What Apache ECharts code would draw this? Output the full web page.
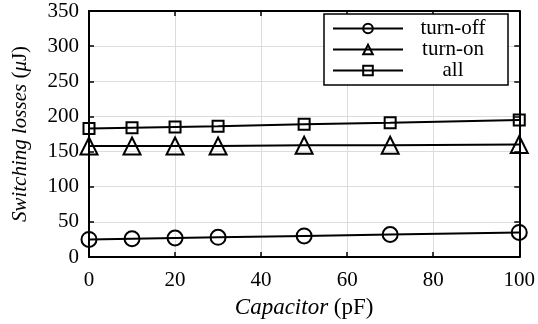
<!DOCTYPE html>
<html>
<head>
<meta charset="utf-8">
<script src="https://cdn.jsdelivr.net/npm/echarts@6/dist/echarts.min.js"></script>
<style>
  html, body { margin: 0; padding: 0; background: #fff; }
  #chart { width: 538px; height: 324px; }
</style>
</head>
<body>
<div id="chart"></div>
<script>
// Capacitance sweep (pF) and measured switching losses (µJ)
const capacitance = [0, 10, 20, 30, 50, 70, 100];
const turnOff = [25, 26, 27, 28, 30, 32, 35];
const turnOn = [158, 158, 158, 158, 159, 159, 160];
const allLosses = [183, 184, 185, 186, 189, 191, 195];

const xTicks = [0, 20, 40, 60, 80, 100];
const yTicks = [0, 50, 100, 150, 200, 250, 300, 350];

const FONT = '"Liberation Serif", "DejaVu Serif", serif';

function pairs(ys) {
  return capacitance.map((x, i) => [x, ys[i]]);
}

function lineSeries(name, symbol, size, ys) {
  return {
    name: name,
    type: 'line',
    data: pairs(ys),
    symbol: symbol,
    symbolSize: size,
    showAllSymbol: true,
    lineStyle: { color: '#000', width: 2 },
    itemStyle: { color: 'rgba(255,255,255,0)', borderColor: '#000', borderWidth: 2 },
    emphasis: { disabled: true },
    z: 3
  };
}

const chart = echarts.init(document.getElementById('chart'), null, { renderer: 'canvas' });

const baseX = { type: 'value', min: 0, max: 100, interval: 20 };
const baseY = { type: 'value', min: 0, max: 350, interval: 50 };

const boxLine = { show: true, onZero: false, lineStyle: { color: '#000', width: 2 } };
const boxTick = { show: true, inside: true, length: 5, lineStyle: { color: '#000', width: 1.5 } };

chart.setOption({
  animation: false,
  backgroundColor: '#fff',
  grid: { left: 89, right: 18, top: 11, bottom: 67, containLabel: false },
  legend: {
    data: ['turn-off', 'turn-on', 'all'],
    orient: 'vertical',
    left: 324,
    top: 14,
    padding: [4, 10, 4, 8],
    itemWidth: 70,
    itemHeight: 12,
    itemGap: 0,
    borderColor: '#000',
    borderWidth: 1.5,
    backgroundColor: '#fff',
    borderRadius: 0,
    formatter: '{t|{name}}',
    textStyle: {
      fontFamily: FONT,
      fontSize: 21,
      color: '#000',
      rich: { t: { width: 90, align: 'center', fontFamily: FONT, fontSize: 21, lineHeight: 22 } }
    }
  },
  xAxis: [
    Object.assign({}, baseX, {
      position: 'bottom',
      name: '{i|Capacitor} (pF)',
      nameLocation: 'middle',
      nameGap: 39,
      nameTextStyle: {
        fontFamily: FONT, fontSize: 23, color: '#000',
        rich: { i: { fontFamily: FONT, fontSize: 23, fontStyle: 'italic', color: '#000' } }
      },
      axisLine: boxLine,
      axisTick: boxTick,
      axisLabel: {
        fontFamily: FONT, fontSize: 21, color: '#000', margin: 13,
        formatter: v => (xTicks.indexOf(v) >= 0 ? String(v) : '')
      },
      splitLine: { show: true, lineStyle: { color: '#dcdcdc', width: 1 } }
    }),
    Object.assign({}, baseX, {
      position: 'top',
      axisLine: boxLine,
      axisTick: boxTick,
      axisLabel: { show: false },
      splitLine: { show: false }
    })
  ],
  yAxis: [
    Object.assign({}, baseY, {
      position: 'left',
      name: '{i|Switching losses} ({i|μ}J)',
      nameLocation: 'middle',
      nameGap: 58,
      nameRotate: 90,
      nameTextStyle: {
        fontFamily: FONT, fontSize: 21, color: '#000',
        rich: { i: { fontFamily: FONT, fontSize: 21, fontStyle: 'italic', color: '#000' } }
      },
      axisLine: boxLine,
      axisTick: boxTick,
      axisLabel: {
        fontFamily: FONT, fontSize: 21, color: '#000', margin: 10,
        formatter: v => (yTicks.indexOf(v) >= 0 ? String(v) : '')
      },
      splitLine: { show: true, lineStyle: { color: '#dcdcdc', width: 1 } }
    }),
    Object.assign({}, baseY, {
      position: 'right',
      axisLine: boxLine,
      axisTick: boxTick,
      axisLabel: { show: false },
      splitLine: { show: false }
    })
  ],
  series: [
    lineSeries('turn-off', 'circle', 15, turnOff),
    lineSeries('turn-on', 'triangle', 17, turnOn),
    lineSeries('all', 'rect', 11, allLosses)
  ]
});
</script>
</body>
</html>
